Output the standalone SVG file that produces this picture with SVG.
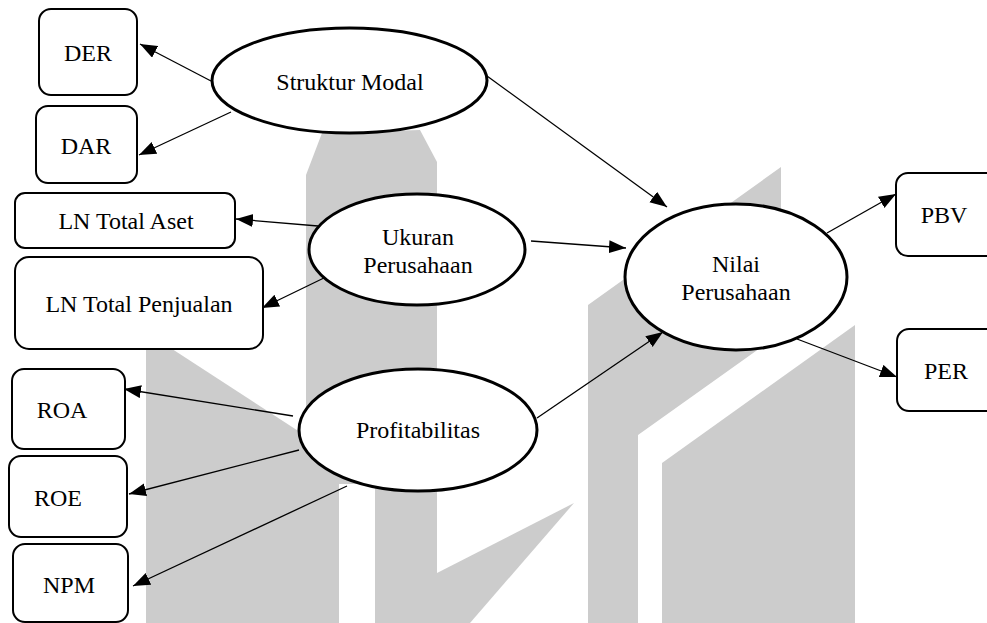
<svg xmlns="http://www.w3.org/2000/svg" width="987" height="623" viewBox="0 0 987 623">
<style>
.bg{fill:#ffffff}
.wm{fill:#cccccc;stroke:none}
.box{fill:#ffffff;stroke:#000000;stroke-width:2}
.ell{fill:#ffffff;stroke:#000000;stroke-width:3}
.lbl{font-size:24px;fill:#000000;text-anchor:middle}
.edge{stroke:#000000;stroke-width:1.3;fill:none;marker-end:url(#arr)}
</style>
<defs>
<marker id="arr" markerUnits="userSpaceOnUse" markerWidth="18" markerHeight="14" refX="17" refY="6.5" orient="auto">
<path d="M0,0 L17,6.5 L0,13 Z" fill="#000000"/>
</marker>
</defs>
<rect class="bg" x="0" y="0" width="987" height="623"/>
<g id="watermark">
<polygon class="wm" points="146,332 306,436 306,623 146,623"/>
<polygon class="wm" points="306,175 322,133 420,130 437,162 437,623 375,623 375,484 339,484 339,623 306,623"/>
<polygon class="wm" points="437,573 574,503 470,623 437,623"/>
<polygon class="wm" points="588,623 588,305 781,167 781,333 638,435 638,623"/>
<polygon class="wm" points="662,623 662,463 855,325 855,623"/>
</g>
<g id="connectors">
<line class="edge" x1="211" y1="81" x2="140" y2="44"/>
<line class="edge" x1="231" y1="112" x2="139" y2="155"/>
<line class="edge" x1="318" y1="226" x2="236" y2="219"/>
<line class="edge" x1="328" y1="276" x2="262" y2="308"/>
<line class="edge" x1="293" y1="416" x2="124" y2="389"/>
<line class="edge" x1="299" y1="450" x2="129" y2="494"/>
<line class="edge" x1="347" y1="486" x2="133" y2="586"/>
<line class="edge" x1="487" y1="76" x2="667" y2="207"/>
<line class="edge" x1="531" y1="241" x2="626" y2="248"/>
<line class="edge" x1="537" y1="418" x2="663" y2="332"/>
<line class="edge" x1="827" y1="233" x2="896" y2="194"/>
<line class="edge" x1="797" y1="339" x2="897" y2="377"/>
</g>
<g font-family="'Liberation Serif', Tinos, 'Times New Roman', Times, 'DejaVu Serif', serif">
<g id="struktur-modal">
<ellipse class="ell" cx="349.5" cy="80.5" rx="137.5" ry="52.5"/>
<text class="lbl" x="350" y="90">Struktur Modal</text>
</g>
<g id="ukuran-perusahaan">
<ellipse class="ell" cx="417" cy="249.5" rx="108" ry="55.5"/>
<text class="lbl" x="418" y="245">Ukuran</text>
<text class="lbl" x="418" y="273">Perusahaan</text>
</g>
<g id="profitabilitas">
<ellipse class="ell" cx="418" cy="430" rx="119" ry="61"/>
<text class="lbl" x="418" y="438">Profitabilitas</text>
</g>
<g id="nilai-perusahaan">
<ellipse class="ell" cx="736" cy="277" rx="111" ry="73"/>
<text class="lbl" x="736" y="272">Nilai</text>
<text class="lbl" x="736" y="300">Perusahaan</text>
</g>
<g id="der">
<rect class="box" x="39" y="9" width="98" height="86" rx="12"/>
<text class="lbl" x="88" y="61">DER</text>
</g>
<g id="dar">
<rect class="box" x="36" y="106" width="101" height="77" rx="12"/>
<text class="lbl" x="86" y="154">DAR</text>
</g>
<g id="ln-total-aset">
<rect class="box" x="15" y="193" width="220" height="55" rx="10"/>
<text class="lbl" x="126" y="229">LN Total Aset</text>
</g>
<g id="ln-total-penjualan">
<rect class="box" x="15" y="257" width="248" height="92" rx="14"/>
<text class="lbl" x="139" y="312">LN Total Penjualan</text>
</g>
<g id="roa">
<rect class="box" x="12" y="369" width="113" height="80" rx="12"/>
<text class="lbl" x="62" y="418">ROA</text>
</g>
<g id="roe">
<rect class="box" x="9" y="456" width="118" height="81" rx="12"/>
<text class="lbl" x="58" y="506">ROE</text>
</g>
<g id="npm">
<rect class="box" x="13" y="544" width="115" height="78" rx="12"/>
<text class="lbl" x="69" y="593">NPM</text>
</g>
<g id="pbv">
<rect class="box" x="896" y="173" width="110" height="83" rx="12"/>
<text class="lbl" x="944" y="223">PBV</text>
</g>
<g id="per">
<rect class="box" x="897" y="329" width="110" height="82" rx="12"/>
<text class="lbl" x="946" y="379">PER</text>
</g>
</g>
</svg>
